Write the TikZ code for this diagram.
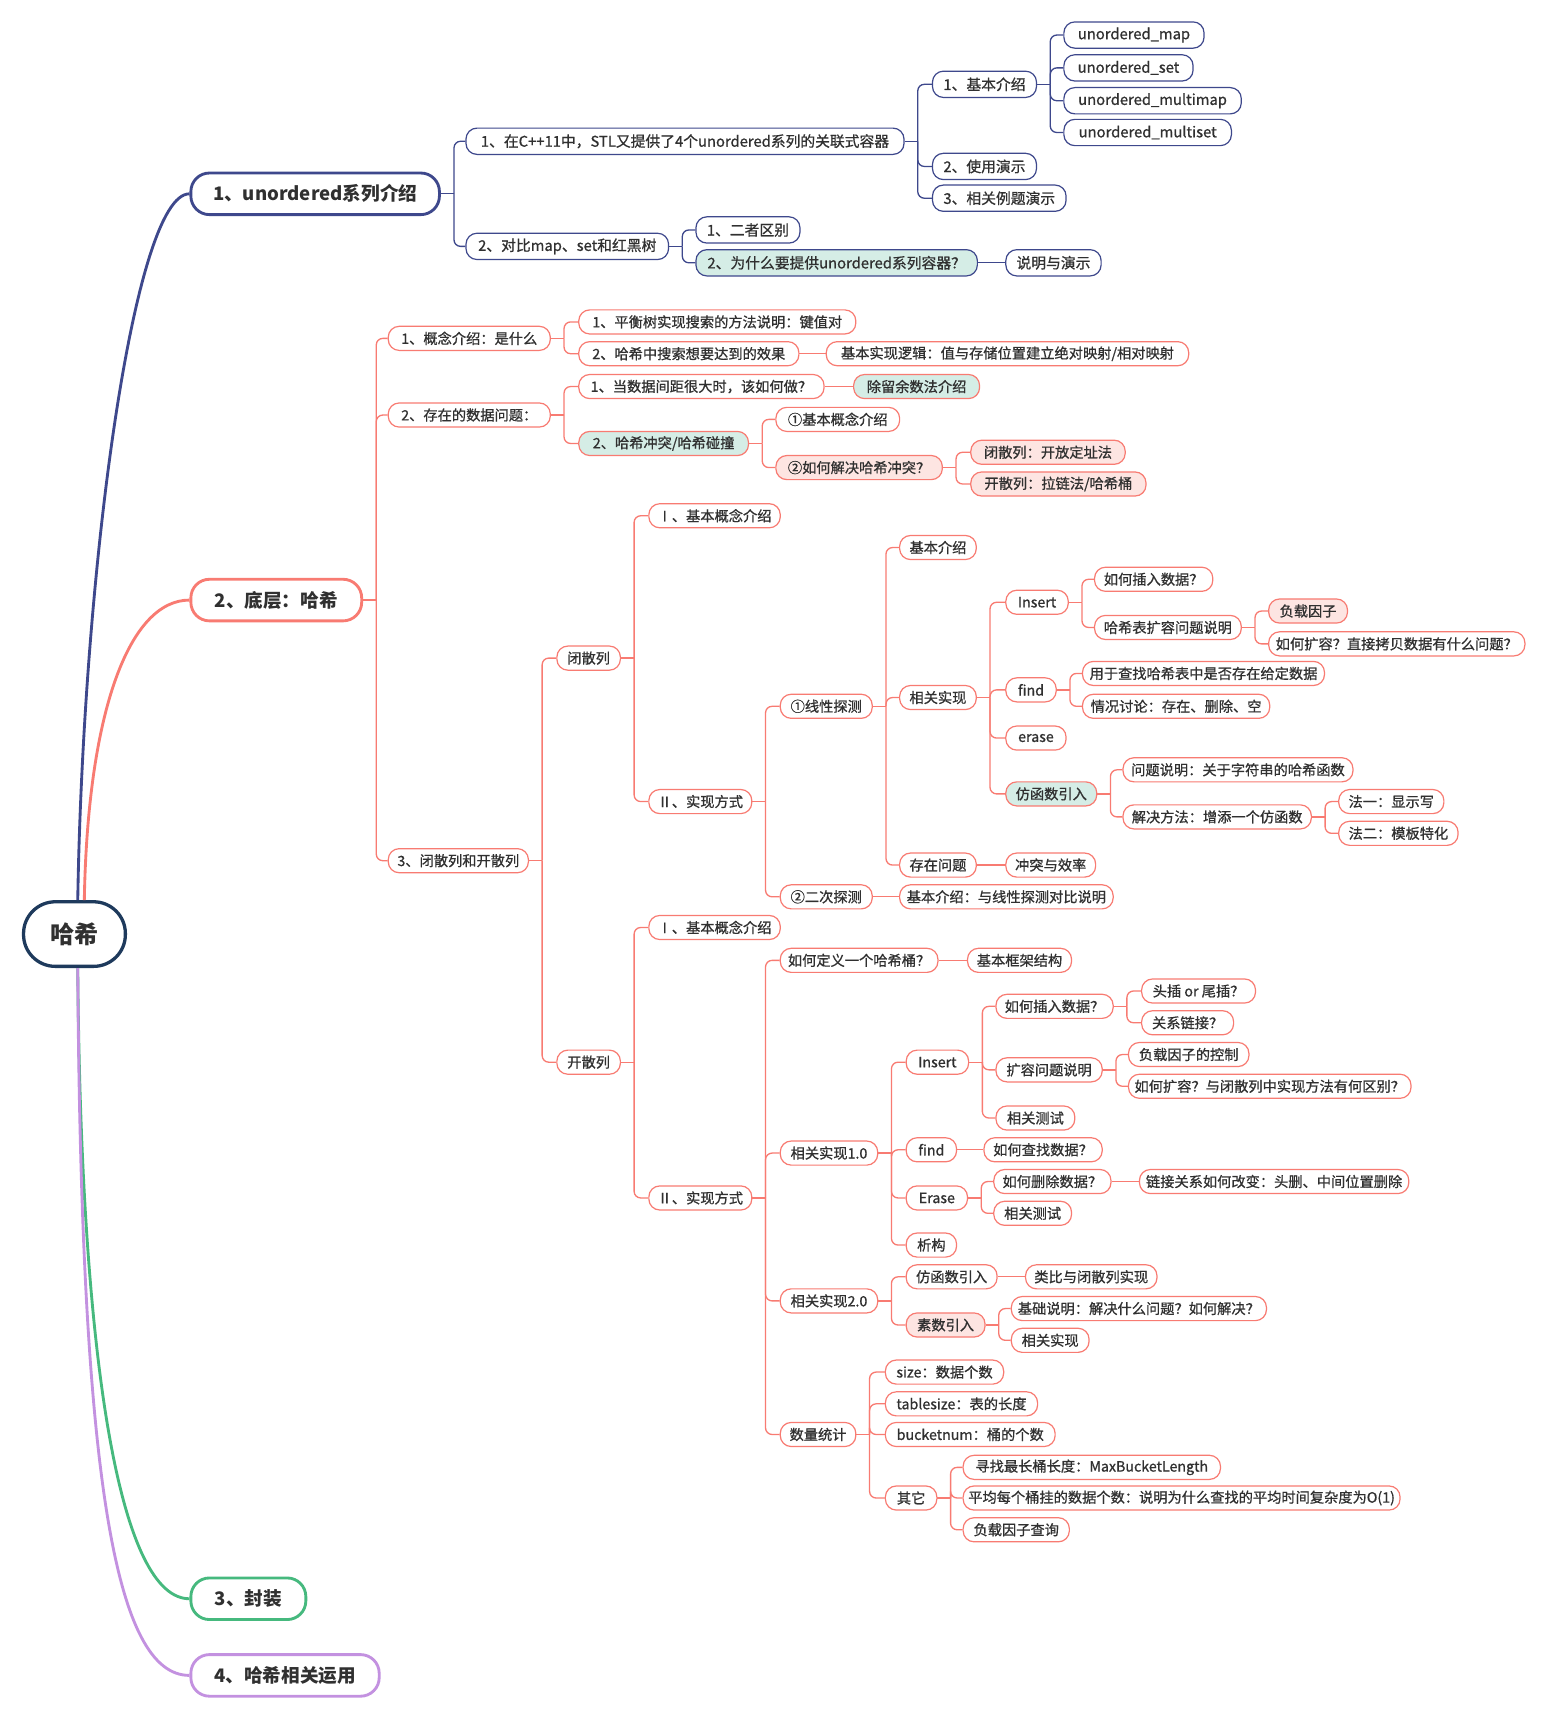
\documentclass[tikz,border=0pt]{standalone}
\usepackage{fontspec}
\setmainfont{Noto Sans CJK SC}
\newfontfamily\nodefont{Noto Sans CJK SC}[FakeBold=0.8]
\definecolor{navyc}{HTML}{3E488C}
\definecolor{salc}{HTML}{F87B72}
\definecolor{greenc}{HTML}{46B97E}
\definecolor{purc}{HTML}{C391E0}
\definecolor{rootc}{HTML}{1E3A5C}
\definecolor{mint}{HTML}{D5EDE6}
\definecolor{pinkf}{HTML}{FDE5E2}
\definecolor{txt}{HTML}{303030}
\tikzset{
  basebox/.style={draw, rounded corners=10, minimum height=22, inner xsep=3, inner ysep=0, text=txt, line width=1.1, fill=white},
  nvbox/.style={basebox, draw=navyc, minimum height=24, font=\nodefont\fontsize{13.5}{13.5}\selectfont},
  slbox/.style={basebox, draw=salc, font=\nodefont\fontsize{13}{13}\selectfont},
  mintfill/.style={fill=mint},
  pinkfill/.style={fill=pinkf},
  mainbox/.style={draw, line width=2.6, rounded corners=17, minimum height=38, inner xsep=3, font=\fontsize{17}{17}\selectfont\bfseries, text=txt, anchor=west, fill=white},
  conn/.style={line width=1.2},
  branch/.style={line width=2.6},
}
\newcommand\nd[6][]{\node[#1, anchor=west, minimum width={#4-#3}] (#2) at (#3,#5) {#6};}
\newcommand\kids[3]{%
  \draw[#1,conn] (#2.east) -- ++(12,0) coordinate (tk);
  \foreach \kk in {#3}{\draw[#1,conn,rounded corners=6] (tk) |- (\kk.west);}
}
\newcommand\onekid[3]{\draw[#1,conn] (#2.east) -- (#3.west);}
\begin{document}
\begin{tikzpicture}[x=1pt,y=-1pt]
\useasboundingbox (0,0) rectangle (1411,1568);
\fill[white] (0,0) rectangle (1411,1568);

% root and main branches
\node[draw=rootc, line width=3, rounded corners=29, minimum width=93, minimum height=59, fill=white, text=txt, font=\fontsize{22}{22}\selectfont\bfseries] (root) at (68,853) {哈希};
\node[mainbox, draw=navyc, minimum width=227] (b1) at (173,177) {1、unordered系列介绍};
\node[mainbox, draw=salc, minimum width=156] (b2) at (173,548) {2、底层：哈希};
\node[mainbox, draw=greenc, minimum width=105] (b3) at (173,1460) {3、封装};
\node[mainbox, draw=purc, minimum width=172] (b4) at (173,1530) {4、哈希相关运用};

\draw[navyc, branch] ([xshift=3]root.north) .. controls (76,520) and (122,177) .. (b1.west);
\draw[salc, branch] ([xshift=9]root.north) .. controls (80,650) and (118,548) .. (b2.west);
\draw[greenc, branch] ([xshift=3]root.south) .. controls (74,1250) and (110,1460) .. (b3.west);
\draw[purc, branch] ([xshift=3]root.south) .. controls (74,1350) and (105,1530) .. (b4.west);

% ---------- section 1 ----------
\nd[nvbox]{a1}{425}{825}{129}{1、在C++11中，STL又提供了4个unordered系列的关联式容器}
\nd[nvbox]{a2}{425}{610}{225}{2、对比map、set和红黑树}
\nd[nvbox]{a11}{851}{946}{77}{1、基本介绍}
\nd[nvbox]{a12}{851}{946}{152}{2、使用演示}
\nd[nvbox]{a13}{851}{973}{181}{3、相关例题演示}
\nd[nvbox]{u1}{971}{1099}{32}{unordered\_map}
\nd[nvbox]{u2}{971}{1089}{62}{unordered\_set}
\nd[nvbox]{u3}{971}{1133}{92}{unordered\_multimap}
\nd[nvbox]{u4}{971}{1124}{121}{unordered\_multiset}
\nd[nvbox]{a21}{635}{730}{210}{1、二者区别}
\nd[nvbox,mintfill]{a22}{635}{892}{240}{2、为什么要提供unordered系列容器？}
\nd[nvbox]{a221}{918}{1005}{240}{说明与演示}

\kids{navyc}{b1}{a1,a2}
\kids{navyc}{a1}{a11,a12,a13}
\kids{navyc}{a11}{u1,u2,u3,u4}
\kids{navyc}{a2}{a21,a22}
\onekid{navyc}{a22}{a221}

% ---------- section 2 ----------
\nd[slbox]{c1}{354}{502}{309}{1、概念介绍：是什么}
\nd[slbox]{c2}{354}{502}{379}{2、存在的数据问题：}
\nd[slbox]{c3}{354}{482}{786}{3、闭散列和开散列}
\nd[slbox]{c11}{528}{781}{294}{1、平衡树实现搜索的方法说明：键值对}
\nd[slbox]{c12}{528}{729}{323}{2、哈希中搜索想要达到的效果}
\nd[slbox]{c121}{754}{1085}{323}{基本实现逻辑：值与存储位置建立绝对映射/相对映射}
\nd[slbox]{c21}{528}{752}{353}{1、当数据间距很大时，该如何做？}
\nd[slbox,mintfill]{c211}{779}{894}{353}{除留余数法介绍}
\nd[slbox,mintfill]{c22}{528}{683}{405}{2、哈希冲突/哈希碰撞}
\nd[slbox]{c221}{708}{821}{383}{①基本概念介绍}
\nd[slbox,pinkfill]{c222}{708}{860}{427}{②如何解决哈希冲突？}
\nd[slbox,pinkfill]{c2221}{886}{1027}{413}{闭散列：开放定址法}
\nd[slbox,pinkfill]{c2222}{886}{1046}{442}{开散列：拉链法/哈希桶}

\nd[slbox]{bs}{508}{566}{601}{闭散列}
\nd[slbox]{ks}{508}{566}{970}{开散列}

% closed hashing
\nd[slbox]{bs1}{592}{712}{471}{Ⅰ、基本概念介绍}
\nd[slbox]{bs2}{592}{686}{732}{Ⅱ、实现方式}
\nd[slbox]{xx}{712}{796}{645}{①线性探测}
\nd[slbox]{ec}{712}{796}{819}{②二次探测}
\nd[slbox]{ec1}{821}{1016}{819}{基本介绍：与线性探测对比说明}
\nd[slbox]{xx1}{821}{891}{500}{基本介绍}
\nd[slbox]{xx2}{821}{891}{637}{相关实现}
\nd[slbox]{xx3}{821}{891}{790}{存在问题}
\nd[slbox]{xx31}{918}{1000}{790}{冲突与效率}
\nd[slbox]{ins}{918}{975}{550}{Insert}
\nd[slbox]{fnd}{918}{964}{630}{find}
\nd[slbox]{ers}{918}{973}{674}{erase}
\nd[slbox,mintfill]{fz}{918}{1001}{725}{仿函数引入}
\nd[slbox]{ins1}{999}{1107}{529}{如何插入数据？}
\nd[slbox]{ins2}{999}{1133}{573}{哈希表扩容问题说明}
\nd[slbox,pinkfill]{ins21}{1158}{1230}{558}{负载因子}
\nd[slbox]{ins22}{1158}{1392}{588}{如何扩容？直接拷贝数据有什么问题？}
\nd[slbox]{fnd1}{988}{1209}{615}{用于查找哈希表中是否存在给定数据}
\nd[slbox]{fnd2}{988}{1159}{645}{情况讨论：存在、删除、空}
\nd[slbox]{fz1}{1025}{1235}{703}{问题说明：关于字符串的哈希函数}
\nd[slbox]{fz2}{1025}{1197}{746}{解决方法：增添一个仿函数}
\nd[slbox]{fz21}{1222}{1318}{732}{法一：显示写}
\nd[slbox]{fz22}{1222}{1331}{761}{法二：模板特化}

% open hashing
\nd[slbox]{ks1}{592}{712}{847}{Ⅰ、基本概念介绍}
\nd[slbox]{ks2}{592}{686}{1094}{Ⅱ、实现方式}
\nd[slbox]{kd}{712}{856}{877}{如何定义一个哈希桶？}
\nd[slbox]{kd1}{883}{978}{877}{基本框架结构}
\nd[slbox]{r1}{712}{801}{1053}{相关实现1.0}
\nd[slbox]{r2}{712}{801}{1188}{相关实现2.0}
\nd[slbox]{stat}{712}{781}{1310}{数量统计}
\nd[slbox]{ki}{827}{884}{970}{Insert}
\nd[slbox]{kf}{827}{873}{1050}{find}
\nd[slbox]{ke}{827}{883}{1094}{Erase}
\nd[slbox]{kx}{827}{873}{1137}{析构}
\nd[slbox]{ki1}{909}{1016}{919}{如何插入数据？}
\nd[slbox]{ki2}{909}{1006}{977}{扩容问题说明}
\nd[slbox]{ki3}{909}{981}{1021}{相关测试}
\nd[slbox]{ki11}{1042}{1146}{905}{头插 or 尾插？}
\nd[slbox]{ki12}{1042}{1126}{934}{关系链接？}
\nd[slbox]{ki21}{1030}{1140}{963}{负载因子的控制}
\nd[slbox]{ki22}{1030}{1288}{992}{如何扩容？与闭散列中实现方法有何区别？}
\nd[slbox]{kf1}{898}{1006}{1050}{如何查找数据？}
\nd[slbox]{ke1}{907}{1014}{1079}{如何删除数据？}
\nd[slbox]{ke11}{1040}{1286}{1079}{链接关系如何改变：头删、中间位置删除}
\nd[slbox]{ke2}{907}{978}{1108}{相关测试}
\nd[slbox]{r21}{827}{910}{1166}{仿函数引入}
\nd[slbox]{r211}{936}{1056}{1166}{类比与闭散列实现}
\nd[slbox,pinkfill]{r22}{827}{899}{1210}{素数引入}
\nd[slbox]{r221}{923}{1156}{1195}{基础说明：解决什么问题？如何解决？}
\nd[slbox]{r222}{923}{994}{1224}{相关实现}
\nd[slbox]{s1}{808}{916}{1253}{size：数据个数}
\nd[slbox]{s2}{808}{947}{1282}{tablesize：表的长度}
\nd[slbox]{s3}{808}{963}{1310}{bucketnum：桶的个数}
\nd[slbox]{s4}{808}{855}{1368}{其它}
\nd[slbox]{s41}{879}{1114}{1340}{寻找最长桶长度：MaxBucketLength}
\nd[slbox]{s42}{879}{1278}{1368}{平均每个桶挂的数据个数：说明为什么查找的平均时间复杂度为O(1)}
\nd[slbox]{s43}{879}{976}{1397}{负载因子查询}

\kids{salc}{b2}{c1,c2,c3}
\kids{salc}{c1}{c11,c12}
\onekid{salc}{c12}{c121}
\kids{salc}{c2}{c21,c22}
\onekid{salc}{c21}{c211}
\kids{salc}{c22}{c221,c222}
\kids{salc}{c222}{c2221,c2222}
\kids{salc}{c3}{bs,ks}
\kids{salc}{bs}{bs1,bs2}
\kids{salc}{bs2}{xx,ec}
\onekid{salc}{ec}{ec1}
\kids{salc}{xx}{xx1,xx2,xx3}
\onekid{salc}{xx3}{xx31}
\kids{salc}{xx2}{ins,fnd,ers,fz}
\kids{salc}{ins}{ins1,ins2}
\kids{salc}{ins2}{ins21,ins22}
\kids{salc}{fnd}{fnd1,fnd2}
\kids{salc}{fz}{fz1,fz2}
\kids{salc}{fz2}{fz21,fz22}
\kids{salc}{ks}{ks1,ks2}
\kids{salc}{ks2}{kd,r1,r2,stat}
\onekid{salc}{kd}{kd1}
\kids{salc}{r1}{ki,kf,ke,kx}
\kids{salc}{ki}{ki1,ki2,ki3}
\kids{salc}{ki1}{ki11,ki12}
\kids{salc}{ki2}{ki21,ki22}
\onekid{salc}{kf}{kf1}
\kids{salc}{ke}{ke1,ke2}
\onekid{salc}{ke1}{ke11}
\kids{salc}{r2}{r21,r22}
\onekid{salc}{r21}{r211}
\kids{salc}{r22}{r221,r222}
\kids{salc}{stat}{s1,s2,s3,s4}
\kids{salc}{s4}{s41,s42,s43}
\end{tikzpicture}
\end{document}
